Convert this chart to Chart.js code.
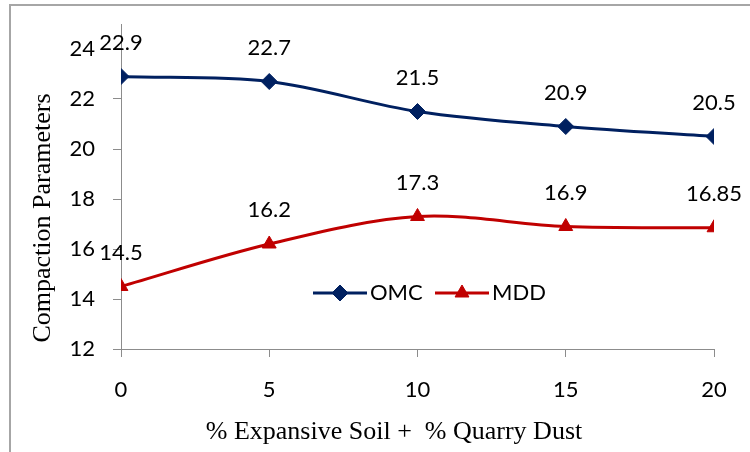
<!DOCTYPE html>
<html>
<head>
<meta charset="utf-8">
<script src="https://cdn.jsdelivr.net/npm/chart.js@4.4.1/dist/chart.umd.min.js"></script>
<style>
  html, body { margin: 0; padding: 0; background: #fff; }
  #wrap { width: 750px; height: 452px; }
</style>
</head>
<body>
<div id="wrap"><canvas id="chart" width="750" height="452"></canvas></div>
<script>
// Данные графика
const categories = [0, 5, 10, 15, 20]
const omcValues = [22.9, 22.7, 21.5, 20.9, 20.5]
const mddValues = [14.5, 16.2, 17.3, 16.9, 16.85]
const yTickValues = [12, 14, 16, 18, 20, 22, 24]
const seriesNames = ['OMC', 'MDD']
const xTitle = '% Expansive Soil +  % Quarry Dust'
const yTitle = 'Compaction Parameters'

const sansFont = 'Lato, "Liberation Sans", sans-serif'
const serifFont = '"Liberation Serif", "Times New Roman", serif'
const axisColor = '#8c8c8c'
const omcColor = '#002060'
const mddColor = '#c00000'

function toPoints(values) {
  return values.map((v, i) => ({ x: categories[i], y: v }))
}

// Рамка вокруг всей диаграммы
const framePlugin = {
  id: 'frame',
  beforeDraw(chart) {
    const ctx = chart.ctx
    ctx.save()
    ctx.fillStyle = '#fff'
    ctx.fillRect(0, 0, chart.width, chart.height)
    ctx.strokeStyle = '#a6a6a6'
    ctx.lineWidth = 2
    ctx.strokeRect(10, 5, 800, 500)
    ctx.restore()
  },
}

// Подписи значений, легенда и заголовки осей
const extrasPlugin = {
  id: 'extras',
  afterDatasetsDraw(chart) {
    const ctx = chart.ctx
    ctx.save()

    // подписи над точками
    ctx.font = '22px ' + sansFont
    ctx.fillStyle = '#000'
    ctx.textAlign = 'center'
    ctx.textBaseline = 'middle'
    chart.data.datasets.forEach((ds, di) => {
      chart.getDatasetMeta(di).data.forEach((pt, i) => {
        ctx.fillText(String(ds.data[i].y), pt.x, pt.y - 34)
      })
    })

    // легенда: линия с маркером + название
    const legendY = 293
    const legendItems = [
      { x: 313, ds: chart.data.datasets[0] },
      { x: 435, ds: chart.data.datasets[1] },
    ]
    legendItems.forEach((item) => {
      const ds = item.ds
      ctx.strokeStyle = ds.borderColor
      ctx.fillStyle = ds.borderColor
      ctx.lineWidth = 3
      ctx.beginPath()
      ctx.moveTo(item.x, legendY)
      ctx.lineTo(item.x + 54, legendY)
      ctx.stroke()
      ctx.lineWidth = 1
      Chart.helpers.drawPoint(
        ctx,
        { pointStyle: ds.pointStyle, radius: ds.pointRadius, rotation: 0, borderWidth: 1 },
        item.x + 27,
        legendY
      )
      ctx.fillStyle = '#000'
      ctx.textAlign = 'left'
      ctx.textBaseline = 'middle'
      ctx.font = '22px ' + sansFont
      ctx.fillText(ds.label, item.x + 57, legendY)
    })

    // заголовки осей
    ctx.fillStyle = '#000'
    ctx.font = '26px ' + serifFont
    ctx.textAlign = 'center'
    ctx.textBaseline = 'alphabetic'
    ctx.fillText(xTitle, 394, 439)

    ctx.translate(50, 218)
    ctx.rotate(-Math.PI / 2)
    ctx.fillText(yTitle, 0, 0)
    ctx.restore()
  },
}

new Chart(document.getElementById('chart'), {
  type: 'line',
  data: {
    datasets: [
      {
        label: seriesNames[0],
        data: toPoints(omcValues),
        borderColor: omcColor,
        backgroundColor: omcColor,
        borderWidth: 3,
        pointStyle: 'rectRot',
        pointRadius: 8,
        pointBorderWidth: 1,
        tension: 0.33,
      },
      {
        label: seriesNames[1],
        data: toPoints(mddValues),
        borderColor: mddColor,
        backgroundColor: mddColor,
        borderWidth: 3,
        pointStyle: 'triangle',
        pointRadius: 8,
        pointBorderWidth: 1,
        tension: 0.33,
      },
    ],
  },
  options: {
    responsive: false,
    animation: false,
    devicePixelRatio: 1,
    layout: { padding: { left: 0, top: 24, right: 36, bottom: 0 } },
    plugins: {
      legend: { display: false },
      tooltip: { enabled: false },
    },
    scales: {
      x: {
        type: 'linear',
        min: 0,
        max: 20,
        afterBuildTicks(scale) {
          scale.ticks = categories.map((v) => ({ value: v }))
        },
        afterFit(scale) {
          scale.height = 103
        },
        grid: {
          drawOnChartArea: false,
          drawTicks: true,
          tickLength: 8,
          color: axisColor,
        },
        border: { display: true, color: axisColor, width: 1 },
        ticks: {
          padding: 20,
          color: '#000',
          font: { family: sansFont, size: 22 },
        },
      },
      y: {
        min: 12,
        max: 25,
        afterBuildTicks(scale) {
          scale.ticks = yTickValues.map((v) => ({ value: v }))
        },
        afterFit(scale) {
          // ширина оси фиксирована, верхний отступ под подпись не нужен
          scale.width = 121
          scale.paddingTop = 0
          scale.paddingBottom = 0
        },
        grid: {
          drawOnChartArea: false,
          drawTicks: true,
          tickLength: 8,
          color: axisColor,
        },
        border: { display: true, color: axisColor, width: 1 },
        ticks: {
          padding: 18,
          color: '#000',
          font: { family: sansFont, size: 22 },
        },
      },
    },
  },
  plugins: [framePlugin, extrasPlugin],
})
</script>
</body>
</html>
